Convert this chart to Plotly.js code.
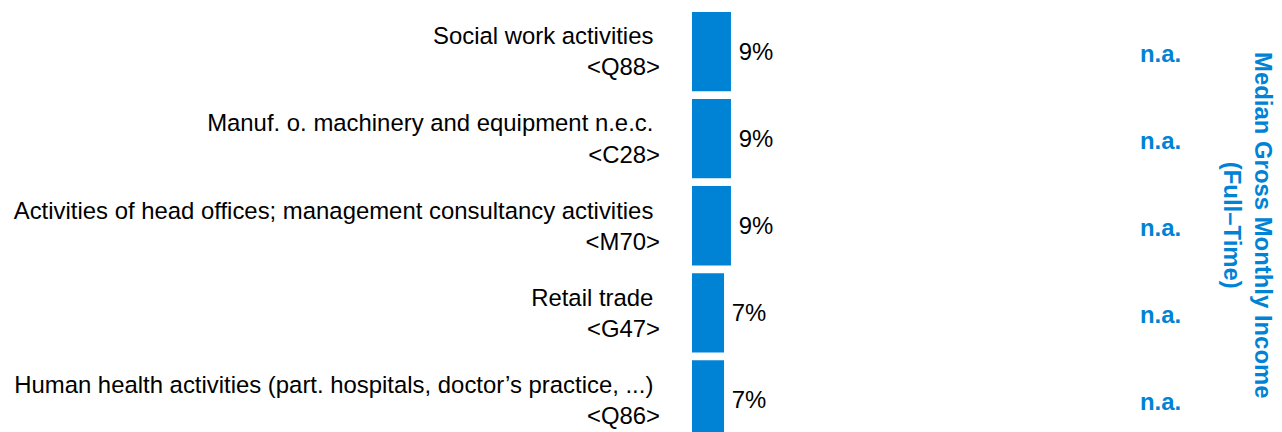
<!DOCTYPE html>
<html>
<head>
<meta charset="utf-8">
<script src="https://cdn.plot.ly/plotly-3.0.1.min.js"></script>
<style>
html,body{margin:0;padding:0;background:#fff;}
#chart{width:1282px;height:432px;}
</style>
</head>
<body>
<div id="chart"></div>
<script>
var categories = [
  "Social work activities",
  "Manuf. o. machinery and equipment n.e.c.",
  "Activities of head offices; management consultancy activities",
  "Retail trade",
  "Human health activities (part. hospitals, doctor\u2019s practice, ...)"
];
var codes = ["Q88", "C28", "M70", "G47", "Q86"];
var shares = [9.0, 9.0, 9.0, 7.4, 7.4];
var shareLabels = ["9%", "9%", "9%", "7%", "7%"];
var incomeLabels = ["n.a.", "n.a.", "n.a.", "n.a.", "n.a."];
var rightTitle = "Median Gross Monthly Income<br>(Full\u2013Time)";

var BLUE = "#0083D5";
var FONT = "Liberation Sans, Arial, sans-serif";
var FS = 23.9;

var tickText = categories.map(function(c, i){
  return c + "&nbsp;<br>&lt;" + codes[i] + "&gt;";
});

var trace = {
  type: "bar",
  orientation: "h",
  y: categories,
  x: shares,
  text: shareLabels.map(function(s){ return "\u2009" + s; }),
  textposition: "outside",
  textfont: {family: FONT, size: FS, color: "#000"},
  cliponaxis: false,
  marker: {color: BLUE},
  hoverinfo: "none",
  width: 0.91
};

var annotations = categories.map(function(c, i){
  return {
    xref: "paper", yref: "y", x: 0.9055, y: c,
    text: "<b>" + incomeLabels[i] + "</b>",
    showarrow: false,
    font: {family: FONT, size: FS, color: BLUE},
    xanchor: "center", yanchor: "middle", yshift: -2
  };
});
annotations.push({
  xref: "paper", yref: "paper", x: 0.9735, y: 0.488,
  text: "<b>" + rightTitle + "</b>",
  textangle: 90,
  showarrow: false,
  font: {family: FONT, size: FS, color: BLUE},
  xanchor: "center", yanchor: "middle"
});

var layout = {
  width: 1282, height: 432,
  margin: {l: 0, r: 0, t: 8, b: 0},
  paper_bgcolor: "#fff", plot_bgcolor: "#fff",
  showlegend: false,
  xaxis: {
    domain: [692/1282, 1100/1282],
    range: [0, 408/4.33],
    showgrid: false, zeroline: false, showticklabels: false, showline: false
  },
  yaxis: {
    type: "category",
    categoryorder: "array", categoryarray: categories,
    range: [4.368, -0.5],
    tickvals: categories, ticktext: tickText,
    tickfont: {family: FONT, size: FS, color: "#000"},
    showgrid: false, zeroline: false, showline: false,
    ticks: "", ticklabelstandoff: 31,
    automargin: false
  },
  annotations: annotations,
  font: {family: FONT}
};

Plotly.newPlot("chart", [trace], layout, {displayModeBar: false, staticPlot: true});
</script>
</body>
</html>
